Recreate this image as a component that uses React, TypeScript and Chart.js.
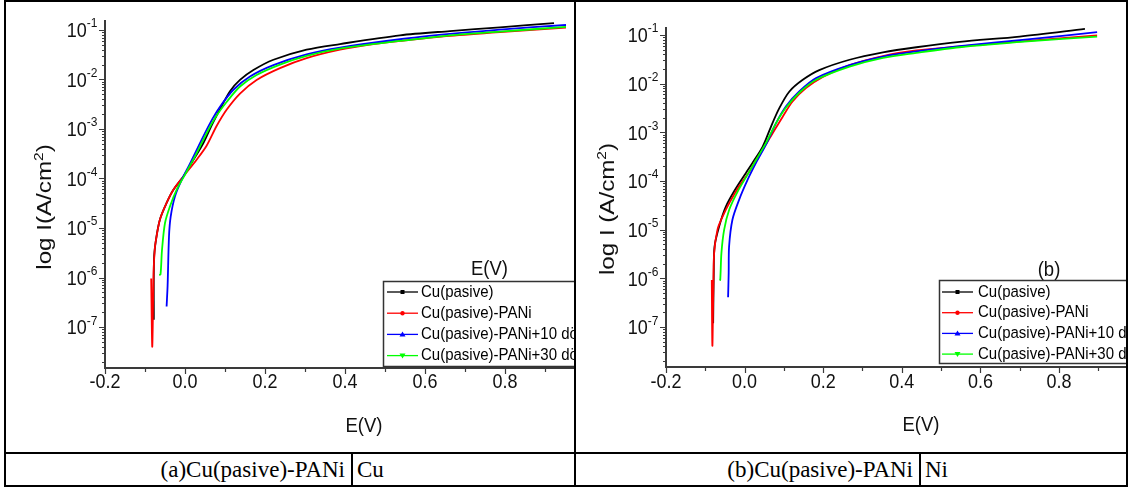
import React, { useEffect, useRef } from "react";
import { Chart, registerables } from "chart.js";
Chart.register(...registerables);

// ---------- DATA: panel (a) Cu ----------
const aE_black = [-0.078, -0.0775, -0.0725, -0.0625, -0.046, -0.029, -0.004, 0.02, 0.046, 0.067, 0.0875, 0.1125, 0.1375, 0.171, 0.221, 0.304, 0.3875, 0.5375, 0.6625, 0.7875, 0.9225];
const aI_black = [1.4e-7, 2.3e-6, 5.8e-6, 1.5e-5, 3.2e-5, 5.9e-5, 1.1e-4, 2.3e-4, 5.2e-4, 1.2e-3, 2.5e-3, 5.8e-3, 9.8e-3, 1.55e-2, 2.5e-2, 4.0e-2, 5.2e-2, 7.8e-2, 9.5e-2, 0.113, 0.138];
const aE_red = [-0.0845, -0.0818, -0.0785, -0.0755, -0.0725, -0.0625, -0.046, -0.029, -0.004, 0.029, 0.054, 0.079, 0.104, 0.1375, 0.179, 0.2375, 0.304, 0.3875, 0.471, 0.5375, 0.6625, 0.7875, 0.9525];
const aI_red = [9.5e-7, 4.0e-8, 1.3e-6, 3.8e-6, 5.8e-6, 1.5e-5, 3.2e-5, 5.9e-5, 1.1e-4, 2.4e-4, 4.6e-4, 1.15e-3, 2.45e-3, 5.2e-3, 9.8e-3, 1.7e-2, 2.7e-2, 4.0e-2, 5.2e-2, 6.0e-2, 7.6e-2, 9.1e-2, 0.112];
const aE_blue = [-0.046, -0.0435, -0.04, -0.0358, -0.025, -0.008, 0.0125, 0.0375, 0.0625, 0.0875, 0.121, 0.1625, 0.221, 0.304, 0.3875, 0.5375, 0.6625, 0.7875, 0.9525];
const aI_blue = [2.6e-7, 6.8e-7, 6.8e-6, 1.7e-5, 4.4e-5, 9.5e-5, 2.0e-4, 5.2e-4, 1.3e-3, 2.8e-3, 6.2e-3, 1.15e-2, 1.95e-2, 3.2e-2, 4.4e-2, 6.5e-2, 8.3e-2, 0.102, 0.126];
const aE_green = [-0.0645, -0.0612, -0.0575, -0.05, -0.0375, -0.021, 0.0, 0.025, 0.05, 0.075, 0.104, 0.1375, 0.179, 0.2375, 0.304, 0.3875, 0.5375, 0.6625, 0.7875, 0.9525];
const aI_green = [1.12e-6, 1.15e-6, 3.6e-6, 1.26e-5, 2.75e-5, 5.9e-5, 1.2e-4, 2.8e-4, 7.1e-4, 1.66e-3, 3.5e-3, 7.2e-3, 1.23e-2, 2.0e-2, 3.0e-2, 4.2e-2, 6.0e-2, 7.8e-2, 9.3e-2, 0.115];

// ---------- DATA: panel (b) Ni ----------
const bE_black = [-0.08, -0.0785, -0.0765, -0.065, -0.048, -0.022, 0.003, 0.02, 0.046, 0.067, 0.088, 0.114, 0.148, 0.19, 0.267, 0.352, 0.437, 0.547, 0.7, 0.866];
const bI_black = [1.2e-7, 1.26e-6, 4.5e-6, 1.15e-5, 2.95e-5, 7.1e-5, 1.45e-4, 2.35e-4, 5.1e-4, 1.3e-3, 3.1e-3, 6.9e-3, 1.2e-2, 1.9e-2, 3.1e-2, 4.4e-2, 5.6e-2, 7.2e-2, 9.3e-2, 0.133];
const bE_red = [-0.0835, -0.082, -0.0795, -0.0775, -0.069, -0.056, -0.039, -0.014, 0.012, 0.0245, 0.046, 0.071, 0.097, 0.122, 0.156, 0.199, 0.267, 0.352, 0.437, 0.547, 0.72, 0.897];
const bI_red = [9.3e-7, 4.1e-8, 6.3e-7, 3.3e-6, 1.0e-5, 1.86e-5, 3.5e-5, 7.8e-5, 1.55e-4, 2.35e-4, 4.4e-4, 9.5e-4, 2.1e-3, 4.3e-3, 8.1e-3, 1.38e-2, 2.4e-2, 3.7e-2, 4.8e-2, 5.8e-2, 7.6e-2, 9.8e-2];
const bE_blue = [-0.042, -0.0405, -0.0395, -0.031, -0.014, 0.0075, 0.029, 0.054, 0.08, 0.105, 0.139, 0.182, 0.267, 0.352, 0.437, 0.547, 0.72, 0.897];
const bI_blue = [4.1e-7, 1.3e-6, 4.5e-6, 1.6e-5, 4.1e-5, 1.05e-4, 2.35e-4, 5.5e-4, 1.55e-3, 3.4e-3, 6.9e-3, 1.3e-2, 2.4e-2, 3.6e-2, 4.6e-2, 5.9e-2, 8.1e-2, 0.115];
const bE_green = [-0.064, -0.062, -0.059, -0.052, -0.039, -0.018, 0.0075, 0.029, 0.054, 0.08, 0.105, 0.139, 0.182, 0.267, 0.352, 0.437, 0.547, 0.72, 0.897];
const bI_green = [9.1e-7, 9.3e-7, 3.3e-6, 1.0e-5, 2.6e-5, 6.0e-5, 1.35e-4, 2.7e-4, 6.0e-4, 1.55e-3, 3.2e-3, 6.5e-3, 1.2e-2, 2.24e-2, 3.4e-2, 4.3e-2, 5.6e-2, 7.4e-2, 9.3e-2];

const seriesLabels = ["Cu(pasive)", "Cu(pasive)-PANi", "Cu(pasive)-PANi+10 d\u00f6", "Cu(pasive)-PANi+30 d\u00f6"];

// ---------- TICKS ----------
const xMajorTicks = [-0.2, 0.0, 0.2, 0.4, 0.6, 0.8];
const xMajorLabels = ["-0.2", "0.0", "0.2", "0.4", "0.6", "0.8"];
const xMinorTicks = [-0.1, 0.1, 0.3, 0.5, 0.7, 0.9];
const yDecadeExps = [-7, -6, -5, -4, -3, -2, -1];
const yDecadeLabels = ["-7", "-6", "-5", "-4", "-3", "-2", "-1"];
const yMinorDecades = [-8, -7, -6, -5, -4, -3, -2, -1];
const yMinorMantissas = [2, 3, 4, 5, 6, 7, 8, 9];

// ---------- STYLES ----------
const seriesColors = ["#000000", "#ff0000", "#0000ff", "#00ff00"];
const seriesMarkers = ["square", "circle", "triUp", "triDown"];
const FONT = "'Liberation Sans', Arial, sans-serif";
const AXIS_COLOR = "#3a3a3a";
const STRETCH = 1.14;

const panelA = {
  left: 6, top: 2, width: 568, height: 450,
  padding: { left: 99, top: 18, right: 0, bottom: 84 },
  xMin: -0.2, xMax: 0.9725, yMin: 1.486e-8, yMax: 0.159,
  E: [aE_black, aE_red, aE_blue, aE_green],
  I: [aI_black, aI_red, aI_blue, aI_green],
  yTitleMain: "log I(A/cm",
  yTitleBaseX: 51, yTitleCY: 207,
  xTitleX: 364, xTitleY: 424,
  noteText: "E(V)", noteX: 489.5, noteY: 267,
  legend: { x: 383, y: 281, h: 85, row0: 11, gap: 21.2, l0: 4, l1: 35, tx: 38 },
};

const panelB = {
  left: 576, top: 2, width: 550, height: 450,
  padding: { left: 90, top: 25, right: 0, bottom: 85 },
  xMin: -0.2, xMax: 0.9705, yMin: 1.507e-8, yMax: 0.146,
  E: [bE_black, bE_red, bE_blue, bE_green],
  I: [bI_black, bI_red, bI_blue, bI_green],
  yTitleMain: "log I (A/cm",
  yTitleBaseX: 614, yTitleCY: 209,
  xTitleX: 921, xTitleY: 423,
  noteText: "(b)", noteX: 1049, noteY: 268,
  legend: { x: 939, y: 280, h: 83, row0: 12, gap: 20.7, l0: 3, l1: 34, tx: 39 },
};

function stretchedText(ctx: CanvasRenderingContext2D, text: string, x: number, baseline: number, sy: number) {
  ctx.save();
  ctx.translate(x, baseline);
  ctx.scale(1, sy);
  ctx.fillText(text, 0, 0);
  ctx.restore();
}

function drawMarker(ctx: CanvasRenderingContext2D, kind: string, x: number, y: number, color: string) {
  ctx.fillStyle = color;
  ctx.beginPath();
  if (kind === "square") ctx.rect(x - 2, y - 2, 4, 4);
  else if (kind === "circle") ctx.arc(x, y, 2.2, 0, Math.PI * 2);
  else if (kind === "triUp") { ctx.moveTo(x, y - 3); ctx.lineTo(x + 3, y + 2); ctx.lineTo(x - 3, y + 2); ctx.closePath(); }
  else { ctx.moveTo(x, y + 3); ctx.lineTo(x + 3, y - 2); ctx.lineTo(x - 3, y - 2); ctx.closePath(); }
  ctx.fill();
}

function makeDecor(cfg: any) {
  return {
    id: "decor",
    afterDraw(chart: any) {
      const ctx: CanvasRenderingContext2D = chart.ctx;
      const { left, right, top, bottom } = chart.chartArea;
      const xs = chart.scales.x;
      const ys = chart.scales.y;
      const ox = cfg.left, oy = cfg.top;
      ctx.save();
      ctx.fillStyle = "#111";
      ctx.strokeStyle = AXIS_COLOR;

      // ticks
      ctx.lineWidth = 1.2;
      ctx.beginPath();
      xMajorTicks.forEach((v) => { const p = Math.round(xs.getPixelForValue(v)) + 0.5; ctx.moveTo(p, bottom); ctx.lineTo(p, bottom + 6); });
      xMinorTicks.forEach((v) => { const p = Math.round(xs.getPixelForValue(v)) + 0.5; if (p <= right) { ctx.moveTo(p, bottom); ctx.lineTo(p, bottom + 4); } });
      yDecadeExps.forEach((e) => { const p = Math.round(ys.getPixelForValue(Math.pow(10, e))) + 0.5; ctx.moveTo(left, p); ctx.lineTo(left - 6, p); });
      yMinorDecades.forEach((e) => {
        yMinorMantissas.forEach((m) => {
          const v = m * Math.pow(10, e);
          if (v < cfg.yMin || v > cfg.yMax) return;
          const p = Math.round(ys.getPixelForValue(v)) + 0.5;
          ctx.moveTo(left, p); ctx.lineTo(left - 3, p);
        });
      });
      ctx.stroke();

      // axis lines
      ctx.lineWidth = 2;
      ctx.beginPath();
      ctx.moveTo(left, top); ctx.lineTo(left, bottom + 1);
      ctx.moveTo(left - 1, bottom); ctx.lineTo(right, bottom);
      ctx.stroke();

      // x tick labels
      ctx.font = `18px ${FONT}`;
      ctx.textAlign = "center";
      ctx.textBaseline = "alphabetic";
      xMajorTicks.forEach((v, i) => {
        const p = xs.getPixelForValue(v);
        stretchedText(ctx, xMajorLabels[i], p, 381 - oy + 7.2, STRETCH);
      });

      // y tick labels 10^n
      ctx.textAlign = "left";
      yDecadeExps.forEach((e, i) => {
        const p = ys.getPixelForValue(Math.pow(10, e));
        ctx.font = `18px ${FONT}`;
        const wBase = ctx.measureText("10").width;
        ctx.font = `12px ${FONT}`;
        const wExp = ctx.measureText(yDecadeLabels[i]).width;
        const xEnd = left - 7.5;
        const x0 = xEnd - wExp - wBase;
        ctx.font = `18px ${FONT}`;
        stretchedText(ctx, "10", x0, p + 7.2, STRETCH);
        ctx.font = `12px ${FONT}`;
        stretchedText(ctx, yDecadeLabels[i], x0 + wBase, p - 2.5, STRETCH);
      });

      // x title
      ctx.font = `18.5px ${FONT}`;
      ctx.textAlign = "center";
      stretchedText(ctx, "E(V)", cfg.xTitleX - ox, cfg.xTitleY - oy + 7.5, STRETCH);

      // note inside plot
      stretchedText(ctx, cfg.noteText, cfg.noteX - ox, cfg.noteY - oy + 7.5, STRETCH);

      // y title, rotated, with superscript
      ctx.save();
      ctx.translate(cfg.yTitleBaseX - ox, cfg.yTitleCY - oy);
      ctx.rotate(-Math.PI / 2);
      ctx.scale(1.15, 1);
      ctx.textAlign = "left";
      ctx.font = `21px ${FONT}`;
      const w1 = ctx.measureText(cfg.yTitleMain).width;
      const w3 = ctx.measureText(")").width;
      ctx.font = `13.5px ${FONT}`;
      const w2 = ctx.measureText("2").width;
      const start = -(w1 + w2 + w3) / 2;
      ctx.font = `21px ${FONT}`;
      ctx.fillText(cfg.yTitleMain, start, 0);
      ctx.fillText(")", start + w1 + w2, 0);
      ctx.font = `13.5px ${FONT}`;
      ctx.fillText("2", start + w1, -8);
      ctx.restore();

      // legend
      const lg = cfg.legend;
      const lx = lg.x - ox, ly = lg.y - oy;
      ctx.fillStyle = "#fff";
      ctx.fillRect(lx, ly, chart.width - lx + 20, lg.h);
      ctx.strokeStyle = "#333";
      ctx.lineWidth = 1.5;
      ctx.strokeRect(lx + 0.5, ly + 0.5, chart.width - lx + 20, lg.h);
      ctx.font = `15px ${FONT}`;
      ctx.textAlign = "left";
      ctx.textBaseline = "middle";
      seriesLabels.forEach((lab, i) => {
        const ry = ly + lg.row0 + i * lg.gap;
        ctx.strokeStyle = seriesColors[i];
        ctx.lineWidth = 1.3;
        ctx.beginPath();
        ctx.moveTo(lx + lg.l0, ry); ctx.lineTo(lx + lg.l1, ry);
        ctx.stroke();
        drawMarker(ctx, seriesMarkers[i], lx + (lg.l0 + lg.l1) / 2, ry, seriesColors[i]);
        ctx.fillStyle = "#000";
        ctx.save();
        ctx.translate(lx + lg.tx, ry);
        ctx.scale(1, 1.1);
        ctx.fillText(lab, 0, 0);
        ctx.restore();
      });
      ctx.restore();
    },
  };
}

function Panel({ cfg }: { cfg: any }) {
  const ref = useRef<HTMLCanvasElement | null>(null);
  useEffect(() => {
    if (!ref.current) return;
    const datasets = cfg.E.map((es: number[], si: number) => ({
      label: seriesLabels[si],
      data: es.map((x: number, k: number) => ({ x, y: cfg.I[si][k] })),
      borderColor: seriesColors[si],
      backgroundColor: seriesColors[si],
      borderWidth: 1.8,
      pointRadius: 0,
      tension: 0.3,
      fill: false,
      order: 4 - si,
    }));
    const chart = new Chart(ref.current, {
      type: "line",
      data: { datasets },
      options: {
        responsive: false,
        animation: false,
        devicePixelRatio: 1,
        layout: { padding: cfg.padding },
        plugins: { legend: { display: false }, tooltip: { enabled: false }, title: { display: false } },
        scales: {
          x: { type: "linear", display: false, min: cfg.xMin, max: cfg.xMax },
          y: { type: "logarithmic", display: false, min: cfg.yMin, max: cfg.yMax },
        },
      },
      plugins: [makeDecor(cfg)],
    } as any);
    return () => chart.destroy();
  }, [cfg]);
  return (
    <canvas
      ref={ref}
      width={cfg.width}
      height={cfg.height}
      style={{ position: "absolute", left: cfg.left, top: cfg.top, width: cfg.width, height: cfg.height, display: "block" }}
    />
  );
}

const line = (left: number, top: number, width: number, height: number) => (
  <div style={{ position: "absolute", left, top, width, height, background: "#000" }} />
);

const cellText = (text: string, left: number | null, right: number | null) => (
  <div
    style={{
      position: "absolute",
      top: 454,
      height: 32,
      lineHeight: "32px",
      fontFamily: "'Liberation Serif', 'Times New Roman', serif",
      fontSize: 23,
      whiteSpace: "nowrap",
      color: "#000",
      ...(left !== null ? { left } : {}),
      ...(right !== null ? { right: 1130 - right } : {}),
    }}
  >
    {text}
  </div>
);

export default function App() {
  return (
    <div style={{ position: "absolute", left: 0, top: 0, width: 1130, height: 490, background: "#fff", overflow: "hidden" }}>
      <Panel cfg={panelA} />
      <Panel cfg={panelB} />
      {line(4, 0, 1124, 2)}
      {line(4, 0, 2, 487)}
      {line(1126, 0, 2, 487)}
      {line(4, 485, 1124, 2)}
      {line(574, 0, 2, 487)}
      {line(4, 452, 1124, 2)}
      {line(351, 454, 2, 31)}
      {line(919, 454, 2, 31)}
      {cellText("(a)Cu(pasive)-PANi", null, 345)}
      {cellText("Cu", 357, null)}
      {cellText("(b)Cu(pasive)-PANi", null, 913)}
      {cellText("Ni", 925, null)}
    </div>
  );
}
